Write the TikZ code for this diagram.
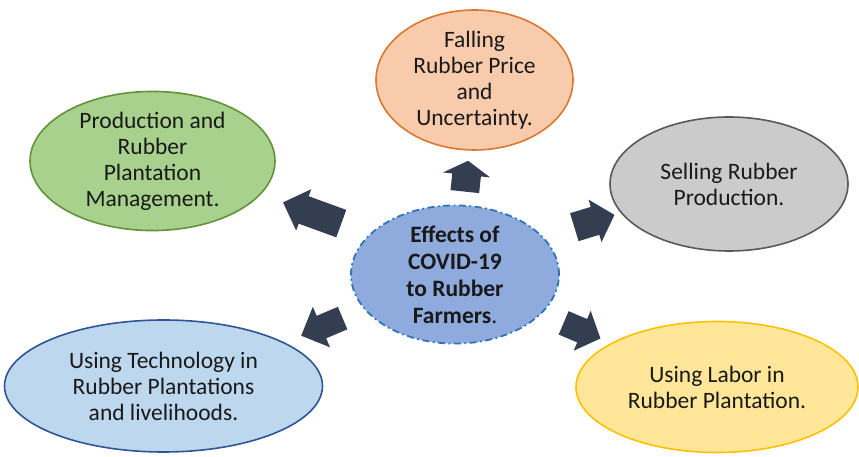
\documentclass[tikz,border=0pt]{standalone}
\usepackage{fontspec}
\setmainfont{Carlito}
\usetikzlibrary{shapes.geometric,shapes.arrows}
\definecolor{arrowc}{HTML}{333F50}
\definecolor{prodfill}{HTML}{A9D18E}\definecolor{proddraw}{HTML}{62923A}
\definecolor{fallfill}{HTML}{F8CBAD}\definecolor{falldraw}{HTML}{D9782E}
\definecolor{sellfill}{HTML}{CBCBCB}\definecolor{selldraw}{HTML}{595959}
\definecolor{techfill}{HTML}{BDD7EE}\definecolor{techdraw}{HTML}{2F5597}
\definecolor{labfill}{HTML}{FFE699}\definecolor{labdraw}{HTML}{FFC000}
\definecolor{cenfill}{HTML}{8FAADC}\definecolor{cendraw}{HTML}{2E75B6}
\begin{document}
\begin{tikzpicture}[x=1pt,y=1pt,
  bub/.style={ellipse, line width=1.6pt, inner sep=0pt, align=center,
    font=\fontsize{23.5}{26}\selectfont, text=black!90},
  blk/.style={single arrow, fill=arrowc, draw=none, inner xsep=0pt}]
\useasboundingbox (0,0) rectangle (859,457);
\node[bub, fill=fallfill, draw=falldraw, minimum width=197pt, minimum height=140pt] (fall) at (474.5,377)
  {Falling\\Rubber Price\\and\\Uncertainty.};
\node[bub, fill=prodfill, draw=proddraw, minimum width=245pt, minimum height=132pt] (prod) at (152.5,296)
  {Production and\\Rubber\\Plantation\\Management.};
\node[bub, fill=sellfill, draw=selldraw, minimum width=238pt, minimum height=134pt] (sell) at (729,273)
  {Selling Rubber\\Production.};
\node[bub, fill=techfill, draw=techdraw, minimum width=318pt, minimum height=132pt] (tech) at (163.5,71)
  {Using Technology in\\Rubber Plantations\\and livelihoods.};
\node[bub, fill=labfill, draw=labdraw, minimum width=282pt, minimum height=131pt] (lab) at (717,70)
  {Using Labor in\\Rubber Plantation.};
\node[bub, fill=cenfill, draw=cendraw, line width=1.8pt,
  dash pattern=on 7pt off 3.5pt on 1.8pt off 3.5pt, minimum width=208pt, minimum height=135pt,
  font=\fontsize{23.5}{27}\selectfont\bfseries] (cen) at (455,182.5)
  {Effects of\\COVID-19\\to Rubber\\Farmers{\mdseries.}};
\node[blk, minimum height=31pt, inner ysep=14.2pt, single arrow head extend=9.3pt,
  single arrow tip angle=118, rotate=84] (aup) at (466,276.5) {};
\node[blk, minimum height=62pt, inner ysep=14.4pt, single arrow head extend=7.4pt,
  single arrow tip angle=90, rotate=160] (aul) at (319,241.5) {};
\node[blk, minimum height=42pt, inner ysep=14.4pt, single arrow head extend=7.6pt,
  single arrow tip angle=95, rotate=17] (aur) at (588,234) {};
\node[blk, minimum height=45pt, inner ysep=12pt, single arrow head extend=9.8pt,
  single arrow tip angle=90, rotate=203] (all) at (327.5,132.5) {};
\node[blk, minimum height=40pt, inner ysep=12.5pt, single arrow head extend=9pt,
  single arrow tip angle=95, rotate=-23] (alr) at (576.7,128.6) {};
\end{tikzpicture}
\end{document}
